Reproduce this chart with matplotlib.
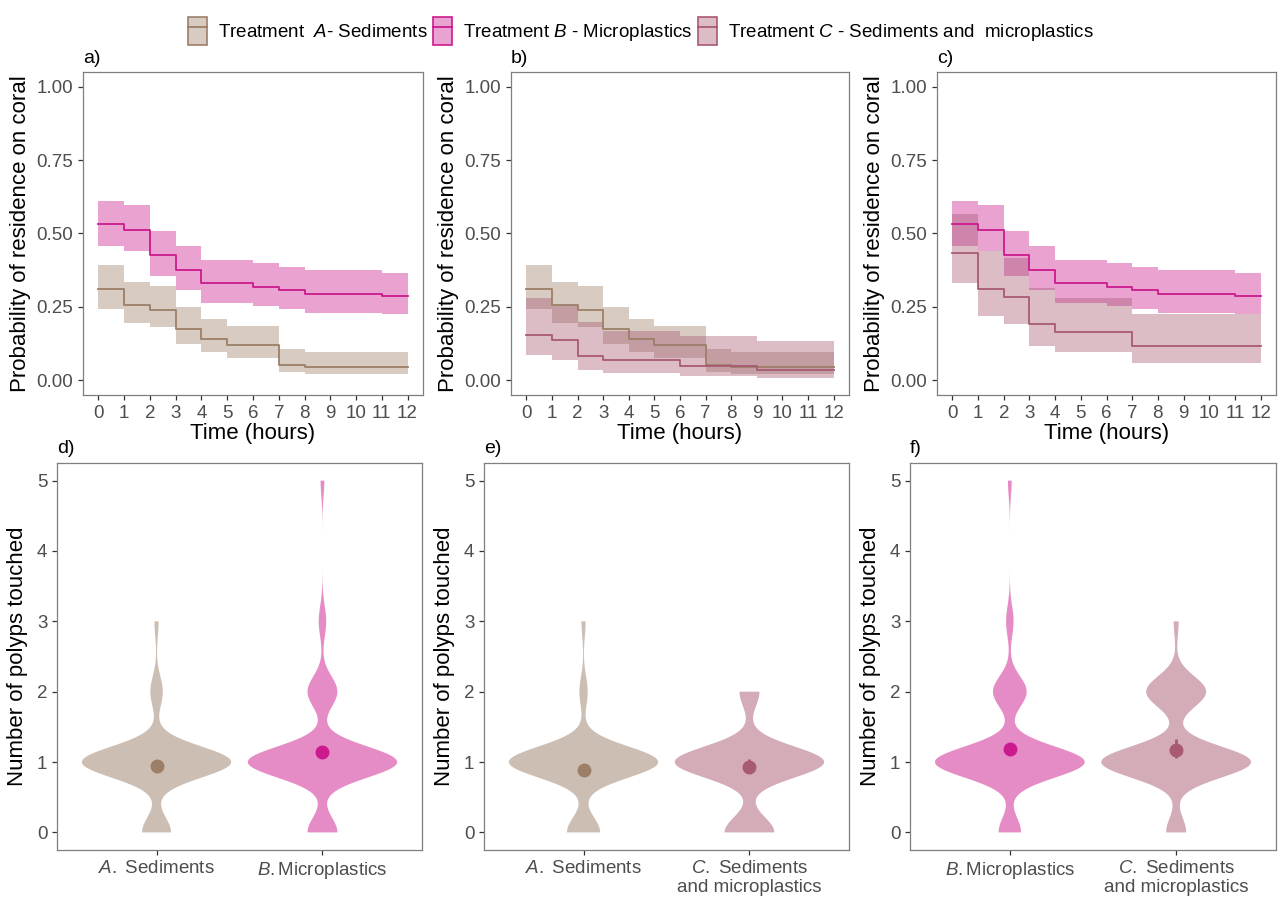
import matplotlib
matplotlib.use("Agg")
import matplotlib.pyplot as plt
import numpy as np
from matplotlib.patches import Patch
from matplotlib.lines import Line2D
from matplotlib.colors import to_rgba

plt.rcParams['font.family'] = ['Liberation Sans', 'DejaVu Sans']
plt.rcParams['mathtext.fontset'] = 'custom'
plt.rcParams['mathtext.rm'] = 'Liberation Sans'
plt.rcParams['mathtext.it'] = 'Liberation Sans:italic'

# ---- survival curves (one value per hour interval 0-1 ... 11-12)
hours = np.arange(13)

surv_A = [0.310, 0.257, 0.241, 0.174, 0.140, 0.120, 0.120, 0.051, 0.044, 0.044, 0.044, 0.044]
upper_A = [0.393, 0.336, 0.322, 0.248, 0.209, 0.185, 0.185, 0.105, 0.096, 0.096, 0.096, 0.096]
lower_A = [0.243, 0.196, 0.182, 0.123, 0.096, 0.077, 0.077, 0.027, 0.022, 0.022, 0.022, 0.022]

surv_B = [0.531, 0.511, 0.426, 0.376, 0.330, 0.330, 0.318, 0.307, 0.293, 0.293, 0.293, 0.287]
upper_B = [0.610, 0.596, 0.509, 0.457, 0.411, 0.411, 0.400, 0.387, 0.374, 0.374, 0.374, 0.367]
lower_B = [0.459, 0.441, 0.355, 0.307, 0.265, 0.265, 0.254, 0.242, 0.230, 0.230, 0.230, 0.225]

# treatment C, trial against A (panel b)
surv_C_b = [0.154, 0.137, 0.084, 0.068, 0.068, 0.068, 0.049, 0.049, 0.049, 0.034, 0.034, 0.034]
upper_C_b = [0.281, 0.256, 0.199, 0.167, 0.167, 0.167, 0.151, 0.151, 0.151, 0.133, 0.133, 0.133]
lower_C_b = [0.085, 0.070, 0.034, 0.026, 0.026, 0.026, 0.016, 0.016, 0.016, 0.007, 0.007, 0.007]

# treatment C, trial against B (panel c)
surv_C_c = [0.434, 0.310, 0.284, 0.193, 0.163, 0.163, 0.163, 0.116, 0.116, 0.116, 0.116, 0.116]
upper_C_c = [0.567, 0.440, 0.418, 0.316, 0.282, 0.282, 0.282, 0.227, 0.227, 0.227, 0.227, 0.227]
lower_C_c = [0.330, 0.220, 0.193, 0.116, 0.096, 0.096, 0.096, 0.060, 0.060, 0.060, 0.060, 0.060]

# ---- polyps touched: number of fish per count 0..5
polyps = np.arange(6)
n_A_d = [7, 36, 3, 1, 0, 0]
n_B_d = [8, 40, 8, 2, 0, 1]
n_A_e = [8, 36, 2, 1, 0, 0]
n_C_e = [10, 30, 4, 0, 0, 0]
n_B_f = [6, 40, 9, 2, 0, 1]
n_C_f = [4, 30, 12, 1, 0, 0]

# means and intervals shown as points
mean_d = [0.95, 1.14]; lo_d = [0.92, 1.08]; hi_d = [0.98, 1.22]
mean_e = [0.89, 0.93]; lo_e = [0.86, 0.88]; hi_e = [0.92, 1.05]
mean_f = [1.18, 1.17]; lo_f = [1.12, 1.06]; hi_f = [1.25, 1.33]

lab_A = r"$\it{A.}$ Sediments"
lab_B = r"$\it{B.}$Microplastics"
lab_C = r"$\it{C.}$ Sediments" + "\n" + "and microplastics"

col_A = '#9c7f68'
col_B = '#cc1a8e'
col_C = '#a85a72'

W, H = 1282, 898
fig = plt.figure(figsize=(W / 100, H / 100), dpi=100)


def box(l, t, r, b):
    return [l / W, 1 - b / H, (r - l) / W, (b - t) / H]


def style(ax):
    for s in ax.spines.values():
        s.set_color('#7f7f7f')
        s.set_linewidth(0.9)
    ax.tick_params(direction='out', length=3.5, width=0.9, color='#333333',
                   labelcolor='#4d4d4d', labelsize=13.5)


def surv_panel(rect, curves, tag):
    ax = fig.add_axes(rect)
    for s, lo, hi, col in curves:
        ax.fill_between(hours, np.append(lo, lo[-1]), np.append(hi, hi[-1]),
                        step='post', color=col, alpha=0.4, lw=0)
    for s, lo, hi, col in curves:
        ax.step(hours, np.append(s, s[-1]), where='post', color=col, lw=1.3)
    ax.set_xlim(-0.6, 12.6)
    ax.set_ylim(-0.05, 1.05)
    ax.set_xticks(hours)
    ax.set_yticks([0, 0.25, 0.5, 0.75, 1.0])
    ax.set_yticklabels(['0.00', '0.25', '0.50', '0.75', '1.00'])
    ax.set_xlabel('Time (hours)', fontsize=16, labelpad=1)
    ax.set_ylabel('Probability of residence on coral', fontsize=16, labelpad=4)
    style(ax)
    ax.text(0, 1.015, tag, transform=ax.transAxes, fontsize=14, va='bottom')
    return ax


def violin_panel(rect, groups, means, los, his, labels, tag):
    ax = fig.add_axes(rect)
    for i, (cnt, col) in enumerate(groups):
        data = np.repeat(polyps, cnt)
        vp = ax.violinplot([data], positions=[i + 1], widths=0.9, showextrema=False,
                           points=600,
                           bw_method=lambda k: 0.22 / np.std(k.dataset, ddof=1))
        b = vp['bodies'][0]
        b.set_facecolor(col)
        b.set_edgecolor('none')
        b.set_alpha(0.5)
        ax.errorbar(i + 1, means[i], yerr=[[means[i] - los[i]], [his[i] - means[i]]],
                    fmt='o', color=col, ms=9, elinewidth=2, capsize=0, zorder=3)
    ax.set_xlim(0.4, 2.6)
    ax.set_ylim(-0.25, 5.25)
    ax.set_xticks([1, 2])
    ax.set_xticklabels(labels)
    ax.set_yticks(range(6))
    ax.set_ylabel('Number of polyps touched', fontsize=16, labelpad=6)
    style(ax)
    ax.text(0, 1.015, tag, transform=ax.transAxes, fontsize=14, va='bottom')
    return ax


surv_panel(box(83, 72, 423, 395),
           [(surv_A, lower_A, upper_A, col_A), (surv_B, lower_B, upper_B, col_B)], 'a)')
surv_panel(box(511, 72, 849, 395),
           [(surv_A, lower_A, upper_A, col_A), (surv_C_b, lower_C_b, upper_C_b, col_C)], 'b)')
surv_panel(box(937, 72, 1276, 395),
           [(surv_B, lower_B, upper_B, col_B), (surv_C_c, lower_C_c, upper_C_c, col_C)], 'c)')

violin_panel(box(57, 463, 422, 850), [(n_A_d, col_A), (n_B_d, col_B)],
             mean_d, lo_d, hi_d, [lab_A, lab_B], 'd)')
violin_panel(box(484, 463, 849, 850), [(n_A_e, col_A), (n_C_e, col_C)],
             mean_e, lo_e, hi_e, [lab_A, lab_C], 'e)')
violin_panel(box(910, 463, 1276, 850), [(n_B_f, col_B), (n_C_f, col_C)],
             mean_f, lo_f, hi_f, [lab_B, lab_C], 'f)')

# legend on top
handles = []
for col in [col_A, col_B, col_C]:
    handles.append((Patch(facecolor=to_rgba(col, 0.4), edgecolor=col, lw=1.2),
                    Line2D([], [], color=col, lw=1.3)))
labels = [r"Treatment  $\it{A}$- Sediments",
          r"Treatment $\it{B}$ - Microplastics",
          r"Treatment $\it{C}$ - Sediments and  microplastics"]
fig.legend(handles, labels, loc='upper center', bbox_to_anchor=(0.5, 1.0), ncol=3,
           frameon=False, fontsize=13.5, handlelength=1.0, handleheight=1.9,
           handletextpad=0.6, columnspacing=0.3)

fig.savefig('out.png', dpi=100)
